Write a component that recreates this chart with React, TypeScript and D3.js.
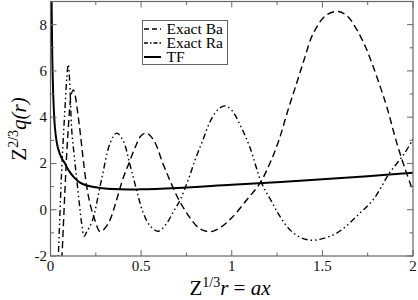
import React from "react";
import * as d3 from "d3";

const baX = [0.055, 0.063, 0.07, 0.08, 0.09, 0.098, 0.105, 0.115, 0.126, 0.137, 0.15, 0.163, 0.18, 0.2, 0.22, 0.245, 0.273, 0.3, 0.328, 0.36, 0.4, 0.43, 0.47, 0.5, 0.53, 0.57, 0.62, 0.66, 0.7, 0.74, 0.77, 0.82, 0.88, 0.94, 1.0, 1.08, 1.156, 1.21, 1.26, 1.31, 1.358, 1.4, 1.45, 1.52, 1.588, 1.64, 1.69, 1.74, 1.78, 1.82, 1.855, 1.91, 1.955, 2.0];
const baY = [-2.6, -2.0, -0.86, 0.9, 2.5, 3.5, 4.3, 5.0, 5.18, 4.9, 4.2, 3.4, 2.2, 1.0, 0.2, -0.45, -0.95, -0.8, -0.45, 0.3, 1.35, 1.95, 2.75, 3.2, 3.31, 3.0, 2.0, 1.25, 0.55, 0.0, -0.35, -0.8, -0.95, -0.75, -0.35, 0.4, 1.15, 2.0, 3.0, 4.3, 5.47, 6.5, 7.63, 8.4, 8.57, 8.35, 7.78, 7.0, 6.19, 5.3, 4.46, 2.9, 1.8, 0.8];

const raX = [0.038, 0.043, 0.05, 0.06, 0.07, 0.08, 0.09, 0.098, 0.106, 0.117, 0.13, 0.145, 0.16, 0.172, 0.186, 0.2, 0.23, 0.28, 0.33, 0.365, 0.4, 0.44, 0.48, 0.51, 0.55, 0.595, 0.64, 0.68, 0.714, 0.76, 0.8, 0.84, 0.88, 0.92, 0.963, 1.0, 1.05, 1.1, 1.165, 1.22, 1.266, 1.32, 1.38, 1.44, 1.5, 1.57, 1.63, 1.7, 1.78, 1.87, 1.95, 2.0];
const raY = [-2.6, -2.0, -0.6, 1.4, 3.0, 4.4, 5.7, 6.28, 5.5, 3.46, 2.4, 1.3, 0.2, -0.6, -1.15, -0.95, -0.5, 1.25, 2.9, 3.31, 3.0, 1.9, 0.7, -0.1, -0.7, -0.93, -0.6, -0.05, 0.4, 1.3, 2.2, 3.0, 3.8, 4.3, 4.49, 4.3, 3.6, 2.7, 1.15, 0.35, -0.29, -0.86, -1.2, -1.32, -1.25, -1.05, -0.72, -0.2, 0.43, 1.58, 2.4, 3.05];

const tfX = [0.005, 0.007, 0.01, 0.015, 0.025, 0.04, 0.06, 0.08, 0.1, 0.13, 0.163, 0.2, 0.25, 0.3, 0.38, 0.5, 0.7, 1.0, 1.27, 1.5, 1.75, 2.0];
const tfY = [10, 8.4, 6.5, 5.0, 3.5, 2.7, 2.25, 2.0, 1.7, 1.4, 1.17, 1.05, 0.97, 0.92, 0.89, 0.88, 0.94, 1.08, 1.2, 1.32, 1.45, 1.6];

const xMajor = [0, 0.5, 1, 1.5, 2];
const xMajorLabels = ["0", "0.5", "1", "1.5", "2"];
const xMinor = [0.25, 0.75, 1.25, 1.75];
const yMajor = [-2, 0, 2, 4, 6, 8];
const yMajorLabels = ["-2", "0", "2", "4", "6", "8"];
const yMinor = [-1, 1, 3, 5, 7];

const seriesNames = ["Exact Ba", "Exact Ra", "TF"];

const W = 418;
const H = 300;
const L = 50.5;
const R = 413;
const T = 1.5;
const B = 256;

const FONT = "Liberation Serif, Times New Roman, DejaVu Serif, serif";

export default function App() {
  const x = d3.scaleLinear().domain([0, 2]).range([L, R]);
  const y = d3.scaleLinear().domain([-2, 9]).range([B, T]);
  const line = d3
    .line<[number, number]>()
    .x((d) => x(d[0]))
    .y((d) => y(d[1]))
    .curve(d3.curveCatmullRom.alpha(0.5));
  const ba = line(baX.map((v, i) => [v, baY[i]]) as [number, number][]) || "";
  const ra = line(raX.map((v, i) => [v, raY[i]]) as [number, number][]) || "";
  const tf = line(tfX.map((v, i) => [v, tfY[i]]) as [number, number][]) || "";
  const frame = "#666";
  const ts = { fontFamily: FONT };
  const styles = [
    { dash: "7,4", width: 1.4 },
    { dash: "6,3,1.5,3,1.5,3", width: 1.4 },
    { dash: "", width: 2 },
  ];
  const paths = [ba, ra, tf];
  return (
    <div style={{ position: "fixed", left: 0, top: 0 }}>
      <svg width={W} height={H} style={{ display: "block", background: "#fff" }}>
        <defs>
          <clipPath id="plotclip">
            <rect x={L} y={T} width={R - L} height={B - T} />
          </clipPath>
        </defs>
        <g clipPath="url(#plotclip)">
          {paths.map((p, i) => (
            <path key={i} d={p} fill="none" stroke="#000" strokeWidth={styles[i].width} strokeDasharray={styles[i].dash || undefined} />
          ))}
        </g>
        <rect x={L} y={T} width={R - L} height={B - T} fill="none" stroke={frame} strokeWidth={1.2} />
        {xMajor.map((v) => (
          <g key={"xm" + v}>
            <line x1={x(v)} x2={x(v)} y1={B} y2={B - 6} stroke={frame} />
            <line x1={x(v)} x2={x(v)} y1={T} y2={T + 6} stroke={frame} />
          </g>
        ))}
        {xMinor.map((v) => (
          <g key={"xn" + v}>
            <line x1={x(v)} x2={x(v)} y1={B} y2={B - 3.5} stroke={frame} />
            <line x1={x(v)} x2={x(v)} y1={T} y2={T + 3.5} stroke={frame} />
          </g>
        ))}
        {yMajor.map((v) => (
          <g key={"ym" + v}>
            <line x1={L} x2={L + 6} y1={y(v)} y2={y(v)} stroke={frame} />
            <line x1={R} x2={R - 6} y1={y(v)} y2={y(v)} stroke={frame} />
          </g>
        ))}
        {yMinor.map((v) => (
          <g key={"yn" + v}>
            <line x1={L} x2={L + 3.5} y1={y(v)} y2={y(v)} stroke={frame} />
            <line x1={R} x2={R - 3.5} y1={y(v)} y2={y(v)} stroke={frame} />
          </g>
        ))}
        {xMajor.map((v, i) => (
          <text key={"xl" + v} x={x(v)} y={271} textAnchor="middle" fontSize={15} fill="#111" style={ts}>
            {xMajorLabels[i]}
          </text>
        ))}
        {yMajor.map((v, i) => (
          <text key={"yl" + v} x={47} y={y(v) + 5} textAnchor="end" fontSize={15} fill="#111" style={ts}>
            {yMajorLabels[i]}
          </text>
        ))}
        <text transform="translate(26,129) rotate(-90)" textAnchor="middle" fontSize={21} fill="#000" style={ts}>
          Z<tspan fontSize={14} dy={-8}>2/3</tspan>
          <tspan dy={8} fontStyle="italic">q(r)</tspan>
        </text>
        <text x={230} y={295} textAnchor="middle" fontSize={21} fill="#000" style={ts}>
          Z<tspan fontSize={14} dy={-8}>1/3</tspan>
          <tspan dy={8} fontStyle="italic">r</tspan>
          <tspan> = </tspan>
          <tspan fontStyle="italic">ax</tspan>
        </text>
        <rect x={142.5} y={20.5} width={85} height={44} fill="#fff" stroke={frame} strokeWidth={1} />
        {seriesNames.map((n, i) => (
          <g key={n}>
            <line x1={144} x2={161} y1={29 + i * 14} y2={29 + i * 14} stroke="#000" strokeWidth={styles[i].width} strokeDasharray={i === 0 ? "5,3" : i === 1 ? "4,2,1.5,2" : undefined} />
            <text x={166.5} y={34 + i * 14} fontSize={15.5} fill="#000" style={ts}>
              {n}
            </text>
          </g>
        ))}
      </svg>
    </div>
  );
}
